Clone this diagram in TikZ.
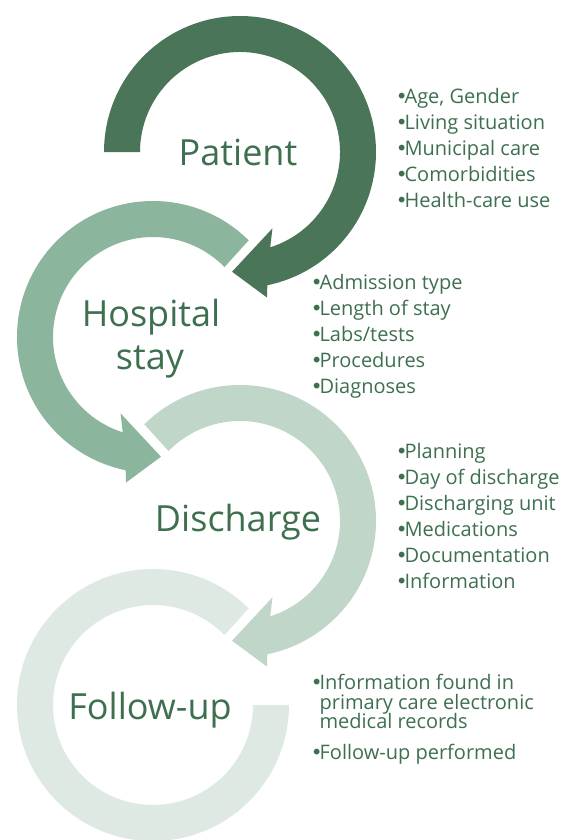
\documentclass[tikz,border=0pt]{standalone}
\usepackage{fontspec}
\setmainfont{Open Sans}
\newfontfamily\bulfont{DejaVu Sans}
\newcommand\bul{{\bulfont\kern-0.12em•\kern-0.15em}}
\usetikzlibrary{calc}
\definecolor{ringA}{RGB}{75,117,89}
\definecolor{ringB}{RGB}{139,181,156}
\definecolor{ringC}{RGB}{191,214,201}
\definecolor{ringD}{RGB}{221,233,226}
\definecolor{txt}{RGB}{62,112,80}
\tikzset{
  title/.style={inner sep=0pt, text=txt, font=\fontsize{36}{40}\selectfont, anchor=base},
  item/.style={inner sep=0pt, text=txt, font=\fontsize{20}{22}\selectfont, anchor=base west},
}
\begin{document}
\begin{tikzpicture}[x=1pt,y=1pt]
\useasboundingbox (0,0) rectangle (567,-840);
\fill[white] (0,0) rectangle (567,-840);
\coordinate (cA) at (240,-152);
\coordinate (cB) at (153,-337);
\coordinate (cC) at (240,-521);
\coordinate (cD) at (153,-705);
% Follow-up ring
\fill[ringD] ($(cD)+(45.3:136)$) arc[start angle=45.3, end angle=360, radius=136]
  -- ($(cD)+(0:100)$) arc[start angle=360, end angle=44.4, radius=100] -- cycle;
% Discharge ring
\fill[ringC] ($(cC)+(134.7:136)$) arc[start angle=134.7, end angle=-78.4, radius=136]
  -- ($(cC)+(-79.5:148)$) -- ($(cC)+(-93.8:120)$) -- ($(cC)+(-67:83)$)
  -- ($(cC)+(-72.4:100)$) arc[start angle=-72.4, end angle=135.6, radius=100] -- cycle;
% Hospital ring
\fill[ringB] ($(cB)+(45.3:136)$) arc[start angle=45.3, end angle=258.4, radius=136]
  -- ($(cB)+(259.5:148)$) -- ($(cB)+(273.8:120)$) -- ($(cB)+(247:83)$)
  -- ($(cB)+(252.4:100)$) arc[start angle=252.4, end angle=44.4, radius=100] -- cycle;
% Patient ring
\fill[ringA] ($(cA)+(180:136)$) arc[start angle=180, end angle=-78.4, radius=136]
  -- ($(cA)+(-79.5:148)$) -- ($(cA)+(-93.8:120)$) -- ($(cA)+(-67:83)$)
  -- ($(cA)+(-72.4:100)$) arc[start angle=-72.4, end angle=180, radius=100] -- cycle;
% titles
\node[title] (tA) at (238,-165) {Patient};
\node[title] (tB1) at (151,-326) {Hospital};
\node[title] (tB2) at (150,-369) {stay};
\node[title] (tC) at (238,-531) {Discharge};
\node[title] (tD) at (150,-719) {Follow-up};
% lists
\node[item] (a1) at (398,-103) {\bul Age, Gender};
\node[item] (a2) at (398,-129) {\bul Living situation};
\node[item] (a3) at (398,-155) {\bul Municipal care};
\node[item] (a4) at (398,-181) {\bul Comorbidities};
\node[item] (a5) at (398,-207) {\bul Health-care use};
\node[item] (b1) at (313,-289) {\bul Admission type};
\node[item] (b2) at (313,-315) {\bul Length of stay};
\node[item] (b3) at (313,-341) {\bul Labs/tests};
\node[item] (b4) at (313,-367) {\bul Procedures};
\node[item] (b5) at (313,-393) {\bul Diagnoses};
\node[item] (c1) at (398,-458) {\bul Planning};
\node[item] (c2) at (398,-484) {\bul Day of discharge};
\node[item] (c3) at (398,-510) {\bul Discharging unit};
\node[item] (c4) at (398,-536) {\bul Medications};
\node[item] (c5) at (398,-562) {\bul Documentation};
\node[item] (c6) at (398,-588) {\bul Information};
\node[item] (d1) at (313,-689) {\bul Information found in};
\node[item] (d2) at (313,-709) {\hphantom{\bul}primary care electronic};
\node[item] (d3) at (313,-728) {\hphantom{\bul}medical records};
\node[item] (d4) at (313,-759) {\bul Follow-up performed};
\end{tikzpicture}
\end{document}
